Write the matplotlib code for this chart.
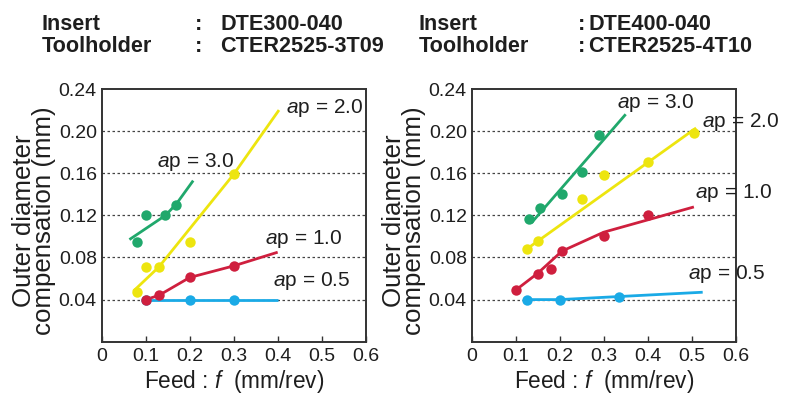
import matplotlib
matplotlib.use('Agg')
import matplotlib.pyplot as plt

plt.rcParams['font.family'] = ['Liberation Sans', 'DejaVu Sans']
plt.rcParams['mathtext.fontset'] = 'custom'
plt.rcParams['mathtext.rm'] = 'Liberation Sans'
plt.rcParams['mathtext.it'] = 'Liberation Sans:italic'

# colours per depth of cut
colors = {'0.5': '#1aaae6', '1.0': '#cf1f3e', '2.0': '#ede50f', '3.0': '#20a86c'}

# ---- left chart: DTE300-040 / CTER2525-3T09 ----
l_p05_x = [0.10, 0.20, 0.30]
l_p05_y = [0.040, 0.040, 0.040]
l_p05_fit_x = [0.10, 0.40]
l_p05_fit_y = [0.040, 0.040]

l_p10_x = [0.10, 0.13, 0.20, 0.30]
l_p10_y = [0.040, 0.044, 0.061, 0.072]
l_p10_fit_x = [0.10, 0.13, 0.20, 0.30, 0.40]
l_p10_fit_y = [0.040, 0.044, 0.061, 0.072, 0.085]

l_p20_x = [0.08, 0.10, 0.13, 0.20, 0.30]
l_p20_y = [0.047, 0.071, 0.071, 0.095, 0.159]
l_p20_fit_x = [0.072, 0.13, 0.30, 0.403]
l_p20_fit_y = [0.048, 0.071, 0.159, 0.220]

l_p30_x = [0.08, 0.10, 0.145, 0.17]
l_p30_y = [0.095, 0.120, 0.120, 0.130]
l_p30_fit_x = [0.063, 0.145, 0.17, 0.208]
l_p30_fit_y = [0.097, 0.120, 0.131, 0.153]

# ---- right chart: DTE400-040 / CTER2525-4T10 ----
r_p05_x = [0.125, 0.20, 0.335]
r_p05_y = [0.040, 0.040, 0.042]
r_p05_fit_x = [0.125, 0.20, 0.525]
r_p05_fit_y = [0.040, 0.040, 0.047]

r_p10_x = [0.10, 0.15, 0.18, 0.205, 0.30, 0.40]
r_p10_y = [0.049, 0.064, 0.069, 0.086, 0.100, 0.120]
r_p10_fit_x = [0.10, 0.15, 0.205, 0.30, 0.505]
r_p10_fit_y = [0.049, 0.065, 0.086, 0.104, 0.128]

r_p20_x = [0.125, 0.15, 0.25, 0.30, 0.40, 0.505]
r_p20_y = [0.088, 0.096, 0.136, 0.158, 0.171, 0.198]
r_p20_fit_x = [0.125, 0.51]
r_p20_fit_y = [0.088, 0.203]

r_p30_x = [0.13, 0.155, 0.205, 0.25, 0.29]
r_p30_y = [0.117, 0.127, 0.140, 0.161, 0.196]
r_p30_fit_x = [0.136, 0.35]
r_p30_fit_y = [0.113, 0.216]

xticks = [0, 0.1, 0.2, 0.3, 0.4, 0.5, 0.6]
xtick_labels = ['0', '0.1', '0.2', '0.3', '0.4', '0.5', '0.6']
yticks = [0.04, 0.08, 0.12, 0.16, 0.20, 0.24]
ytick_labels = ['0.04', '0.08', '0.12', '0.16', '0.20', '0.24']

left_series = [
    ('0.5', l_p05_x, l_p05_y, l_p05_fit_x, l_p05_fit_y),
    ('2.0', l_p20_x, l_p20_y, l_p20_fit_x, l_p20_fit_y),
    ('3.0', l_p30_x, l_p30_y, l_p30_fit_x, l_p30_fit_y),
    ('1.0', l_p10_x, l_p10_y, l_p10_fit_x, l_p10_fit_y),
]
right_series = [
    ('0.5', r_p05_x, r_p05_y, r_p05_fit_x, r_p05_fit_y),
    ('1.0', r_p10_x, r_p10_y, r_p10_fit_x, r_p10_fit_y),
    ('2.0', r_p20_x, r_p20_y, r_p20_fit_x, r_p20_fit_y),
    ('3.0', r_p30_x, r_p30_y, r_p30_fit_x, r_p30_fit_y),
]
# label anchor (left edge, vertical centre) in data coords
left_labels = {'3.0': (0.125, 0.171), '2.0': (0.419, 0.222),
               '1.0': (0.371, 0.0975), '0.5': (0.390, 0.058)}
right_labels = {'3.0': (0.331, 0.227), '2.0': (0.523, 0.209),
                '1.0': (0.5075, 0.1415), '0.5': (0.492, 0.0639)}

fig = plt.figure(figsize=(7.92, 3.94), dpi=100)
ax_l = fig.add_axes([0.1284, 0.1327, 0.3333, 0.6414])
ax_r = fig.add_axes([0.5956, 0.1327, 0.3333, 0.6414])

spine_col = '#333333'
txt_col = '#1e1e1e'


def draw(ax, series, labels):
    for y in yticks[:-1]:
        ax.axhline(y, color='#444444', lw=0.9, ls=(0, (2, 2)), zorder=1)
    for key, px, py, fx, fy in series:
        c = colors[key]
        ax.plot(fx, fy, color=c, lw=2.0, zorder=3, solid_capstyle='butt')
        ax.plot(px, py, 'o', color=c, ms=7.5, mec='none', zorder=4)
        lx, ly = labels[key]
        ax.text(lx, ly, r'$\mathit{a}$p = ' + key, fontsize=15, color=txt_col,
                ha='left', va='center', clip_on=False, zorder=5)
    ax.set_xlim(0, 0.6)
    ax.set_ylim(0, 0.24)
    ax.set_xticks(xticks)
    ax.set_xticklabels(xtick_labels)
    ax.set_yticks(yticks)
    ax.set_yticklabels(ytick_labels)
    ax.tick_params(axis='x', direction='in', length=4, width=1.0, color=spine_col,
                   labelsize=14, pad=4.5, labelcolor=txt_col)
    ax.tick_params(axis='y', direction='in', length=0, labelsize=14, pad=3.5,
                   labelcolor=txt_col)
    for s in ax.spines.values():
        s.set_color(spine_col)
        s.set_linewidth(1.4)
    ax.text(0.5, -0.158, 'Feed : $\\mathit{f}$  (mm/rev)', transform=ax.transAxes,
            ha='center', va='center', fontsize=16.3, color=txt_col)
    ax.text(-0.255, 0.48, 'Outer diameter\ncompensation (mm)', transform=ax.transAxes,
            ha='center', va='center', rotation=90, fontsize=18.6, color=txt_col,
            linespacing=0.78, multialignment='center')


draw(ax_l, left_series, left_labels)
draw(ax_r, right_series, right_labels)

# header block
hdr = dict(fontsize=15.6, fontweight='bold', color=txt_col, va='baseline')
W, H = 792.0, 394.0
fig.text(41.7 / W, 1 - 30 / H, 'Insert', **hdr)
fig.text(41.7 / W, 1 - 51.5 / H, 'Toolholder', **hdr)
fig.text(195 / W, 1 - 30 / H, ':', **hdr)
fig.text(195 / W, 1 - 51.5 / H, ':', **hdr)
fig.text(220.5 / W, 1 - 30 / H, 'DTE300-040', **hdr)
fig.text(220.5 / W, 1 - 51.5 / H, 'CTER2525-3T09', **hdr)

fig.text(418.3 / W, 1 - 30 / H, 'Insert', **hdr)
fig.text(418.3 / W, 1 - 51.5 / H, 'Toolholder', **hdr)
fig.text(578 / W, 1 - 30 / H, ':', **hdr)
fig.text(578 / W, 1 - 51.5 / H, ':', **hdr)
fig.text(588.3 / W, 1 - 30 / H, 'DTE400-040', **hdr)
fig.text(588.3 / W, 1 - 51.5 / H, 'CTER2525-4T10', **hdr)

fig.savefig('out.png', dpi=100)
